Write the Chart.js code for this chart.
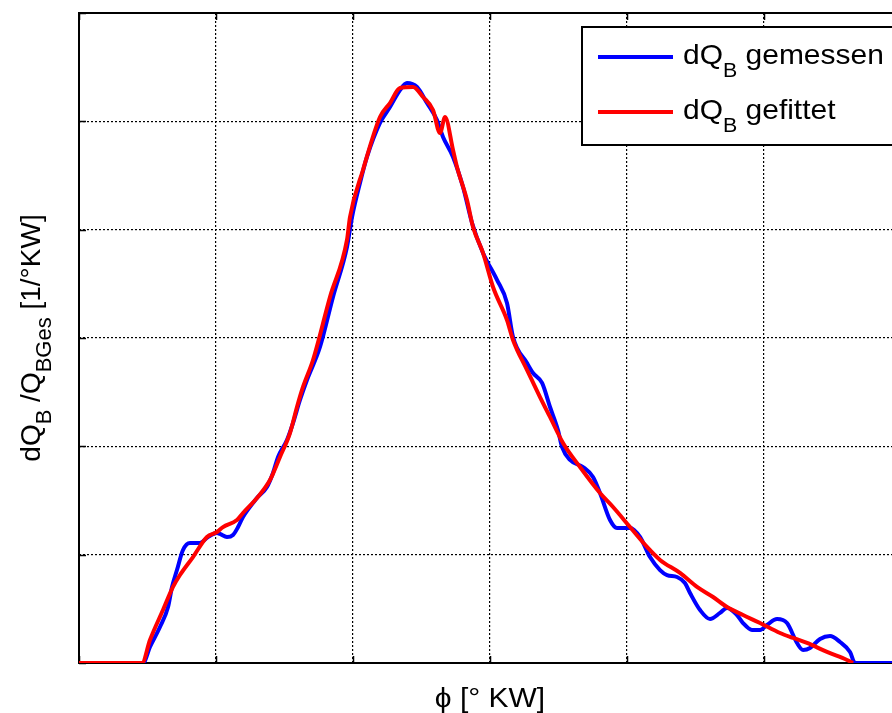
<!DOCTYPE html>
<html>
<head>
<meta charset="utf-8">
<script src="https://cdn.jsdelivr.net/npm/chart.js@4"></script>
<style>
  html, body { margin: 0; padding: 0; background: #fff; overflow: hidden; }
  #wrap { width: 910px; height: 713px; }
</style>
</head>
<body>
<div id="wrap"><canvas id="myChart" width="910" height="713"></canvas></div>
<script>
// crank angle phi [deg KW], heat release rate dQ_B/Q_BGes [1/deg KW]
const gemessenX = [-30, -25.33, -24.82, -24.09, -23.50, -23.21, -22.85, -22.41, -21.90, -21.17, -20.58, -19.93, -19.71, -19.20, -18.76, -18.39, -18.03, -17.01, -16.28, -15.84, -15.47, -14.82, -14.38, -13.87, -13.36, -12.41, -11.46, -10.44, -10.07, -9.49, -8.98, -8.03, -7.30, -6.57, -6.06, -5.33, -4.60, -3.87, -3.43, -2.70, -1.97, -1.31, -0.51, 0.51, 1.24, 1.68, 2.70, 3.14, 3.80, 4.38, 4.96, 5.26, 5.84, 6.79, 7.52, 8.03, 8.76, 9.27, 10.22, 10.95, 11.68, 12.41, 12.92, 13.65, 14.23, 14.60, 15.33, 16.06, 16.79, 17.30, 18.03, 18.47, 19.12, 19.71, 20.22, 20.95, 21.68, 22.41, 22.85, 23.36, 24.09, 24.82, 25.55, 26.28, 26.64, 30];
const gemessenY = [0, 0, 0.00148, 0.00332, 0.00517, 0.00702, 0.00858, 0.01043, 0.01108, 0.01108, 0.01163, 0.01200, 0.01191, 0.01163, 0.01182, 0.01255, 0.01348, 0.01523, 0.01625, 0.01754, 0.01902, 0.02059, 0.02215, 0.02428, 0.02612, 0.02917, 0.03379, 0.03840, 0.04117, 0.04431, 0.04671, 0.04985, 0.05132, 0.05289, 0.05354, 0.05317, 0.05169, 0.05012, 0.04856, 0.04671, 0.04394, 0.04062, 0.03785, 0.03536, 0.03323, 0.03009, 0.02769, 0.02677, 0.02585, 0.02363, 0.02151, 0.01994, 0.01874, 0.01809, 0.01717, 0.01569, 0.01320, 0.01246, 0.01246, 0.01163, 0.00978, 0.00858, 0.00812, 0.00794, 0.00738, 0.00646, 0.00489, 0.00406, 0.00462, 0.00508, 0.00443, 0.00369, 0.00305, 0.00305, 0.00351, 0.00406, 0.00369, 0.00185, 0.00120, 0.00138, 0.00222, 0.00249, 0.00194, 0.00102, 0, 0];

const gefittetX = [-30, -25.40, -24.82, -23.87, -23.14, -22.63, -21.68, -20.66, -19.93, -19.49, -18.47, -18.03, -17.01, -16.06, -15.33, -14.60, -14.09, -13.65, -12.92, -11.68, -10.44, -10.22, -9.27, -8.03, -7.30, -6.57, -5.62, -4.89, -4.16, -3.65, -3.28, -2.70, -2.41, -1.68, -1.24, -0.51, 0.22, 1.24, 1.68, 2.70, 3.65, 4.38, 5.33, 6.57, 8.03, 8.98, 10.22, 11.46, 12.41, 13.87, 15.11, 16.28, 17.30, 18.47, 19.71, 21.17, 22.12, 23.14, 24.60, 26.06, 26.50];
const gefittetY = [0, 0, 0.00212, 0.00489, 0.00702, 0.00812, 0.00978, 0.01163, 0.01209, 0.01255, 0.01320, 0.01385, 0.01523, 0.01689, 0.01902, 0.02123, 0.02363, 0.02548, 0.02797, 0.03379, 0.03905, 0.04117, 0.04551, 0.05040, 0.05169, 0.05308, 0.05317, 0.05225, 0.05105, 0.04892, 0.05040, 0.04736, 0.04579, 0.04274, 0.04025, 0.03785, 0.03471, 0.03166, 0.02982, 0.02705, 0.02455, 0.02271, 0.02031, 0.01809, 0.01569, 0.01440, 0.01255, 0.01071, 0.00951, 0.00831, 0.00702, 0.00609, 0.00517, 0.00443, 0.00369, 0.00277, 0.00231, 0.00185, 0.00102, 0.00028, 0];

const xTicks = [-30, -20, -10, 0, 10, 20, 30];
const yTicks = [0, 0.01, 0.02, 0.03, 0.04, 0.05, 0.06];

const FONT = '"Liberation Sans", Arial, sans-serif';
const STRETCH = 1.07; // horizontal text in the original is a bit wider

function toPoints(xs, ys) {
  return xs.map((x, i) => ({ x: x, y: ys[i] }));
}

// text with subscripts: parts = [[text, isSub], ...]
function richWidth(ctx, parts, size, subSize) {
  let w = 0;
  parts.forEach(p => {
    ctx.font = (p[1] ? subSize : size) + 'px ' + FONT;
    w += ctx.measureText(p[0]).width;
  });
  return w;
}
function drawRich(ctx, parts, x, y, size, subSize, subDrop) {
  ctx.textBaseline = 'alphabetic';
  ctx.textAlign = 'left';
  parts.forEach(p => {
    ctx.font = (p[1] ? subSize : size) + 'px ' + FONT;
    ctx.fillText(p[0], x, p[1] ? y + subDrop : y);
    x += ctx.measureText(p[0]).width;
  });
}

const decor = {
  id: 'decor',
  beforeDatasetsDraw(chart) {
    const ctx = chart.ctx, a = chart.chartArea;
    ctx.save();
    ctx.strokeStyle = '#000';
    ctx.lineWidth = 2;
    ctx.strokeRect(a.left, a.top, a.right - a.left, a.bottom - a.top);
    // little tick marks at bottom and top
    ctx.lineWidth = 1.5;
    const xs = chart.scales.x;
    xTicks.forEach(v => {
      const px = Math.round(xs.getPixelForValue(v)) + 0.5;
      ctx.beginPath();
      ctx.moveTo(px, a.bottom); ctx.lineTo(px, a.bottom - 7);
      ctx.moveTo(px, a.top); ctx.lineTo(px, a.top + 7);
      ctx.stroke();
    });
    const ys = chart.scales.y;
    yTicks.forEach(v => {
      const py = Math.round(ys.getPixelForValue(v)) + 0.5;
      ctx.beginPath();
      ctx.moveTo(a.left, py); ctx.lineTo(a.left + 7, py);
      ctx.stroke();
    });
    ctx.restore();
  },
  afterDraw(chart) {
    const ctx = chart.ctx, a = chart.chartArea;
    ctx.save();
    ctx.fillStyle = '#000';
    // x title
    const xt = [['\u03D5 [\u00B0 KW]', false]];
    const xw = richWidth(ctx, xt, 28, 18) * STRETCH;
    ctx.translate((a.left + a.right) / 2 - xw / 2, 707);
    ctx.scale(STRETCH, 1);
    drawRich(ctx, xt, 0, 0, 28, 18, 0);
    ctx.setTransform(1, 0, 0, 1, 0, 0);
    // y title
    const yt = [['dQ', false], ['B', true], [' /Q', false], ['BGes', true], [' [1/\u00B0KW]', false]];
    ctx.translate(40, (a.top + a.bottom) / 2);
    ctx.rotate(-Math.PI / 2);
    const yw = richWidth(ctx, yt, 28, 22);
    drawRich(ctx, yt, -yw / 2, 0, 28, 22, 11);
    ctx.setTransform(1, 0, 0, 1, 0, 0);

    // legend
    ctx.fillStyle = '#fff';
    ctx.fillRect(582, 27, 340, 118);
    ctx.strokeStyle = '#000';
    ctx.lineWidth = 2;
    ctx.strokeRect(582, 27, 340, 118);
    const rows = [
      { color: '#0000ff', y: 57, parts: [['dQ', false], ['B', true], [' gemessen', false]] },
      { color: '#ff0000', y: 112, parts: [['dQ', false], ['B', true], [' gefittet', false]] }
    ];
    rows.forEach(r => {
      ctx.strokeStyle = r.color;
      ctx.lineWidth = 4;
      ctx.beginPath();
      ctx.moveTo(598, r.y); ctx.lineTo(673, r.y);
      ctx.stroke();
      ctx.fillStyle = '#000';
      ctx.translate(683, r.y + 7);
      ctx.scale(STRETCH, 1);
      drawRich(ctx, r.parts, 0, 0, 28, 20, 13);
      ctx.setTransform(1, 0, 0, 1, 0, 0);
    });
    ctx.restore();
  }
};

const data = {
  datasets: [{
    label: 'dQB gemessen',
    data: toPoints(gemessenX, gemessenY),
    borderColor: '#0000ff',
    backgroundColor: '#0000ff',
    borderWidth: 4,
    pointRadius: 0,
    showLine: true,
    cubicInterpolationMode: 'monotone',
    order: 1
  }, {
    label: 'dQB gefittet',
    data: toPoints(gefittetX, gefittetY),
    borderColor: '#ff0000',
    backgroundColor: '#ff0000',
    borderWidth: 4,
    pointRadius: 0,
    showLine: true,
    cubicInterpolationMode: 'monotone',
    order: 0
  }]
};

const gridStyle = {
  color: '#000',
  lineWidth: 1.2,
  drawTicks: false
};

const config = {
  type: 'scatter',
  data: data,
  options: {
    responsive: false,
    animation: false,
    layout: { padding: { left: 79, top: 13, right: 9, bottom: 50 } },
    plugins: { legend: { display: false }, tooltip: { enabled: false } },
    scales: {
      x: {
        type: 'linear', min: -30, max: 30,
        afterBuildTicks: s => { s.ticks = xTicks.map(v => ({ value: v })); },
        afterFit: s => { s.height = 0; },
        ticks: { display: false },
        grid: gridStyle,
        border: { display: false, dash: [2, 2] }
      },
      y: {
        type: 'linear', min: 0, max: 0.06,
        afterBuildTicks: s => { s.ticks = yTicks.map(v => ({ value: v })); },
        afterFit: s => { s.width = 0; },
        ticks: { display: false },
        grid: gridStyle,
        border: { display: false, dash: [2, 2] }
      }
    }
  },
  plugins: [decor]
};

const myChart = new Chart(document.getElementById('myChart'), config);
</script>
</body>
</html>
